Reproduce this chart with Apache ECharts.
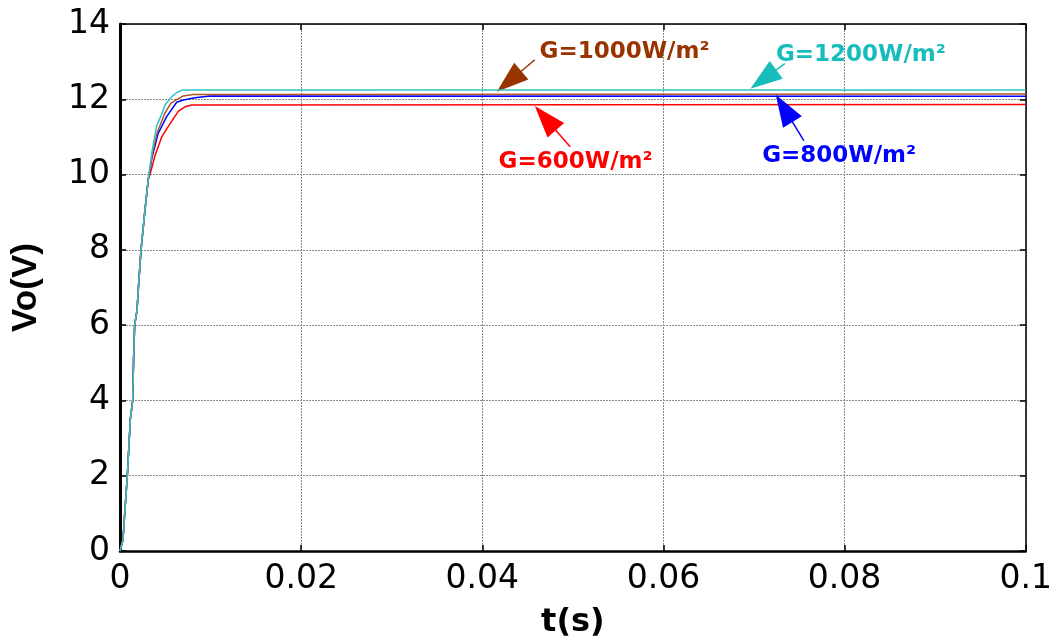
<!DOCTYPE html>
<html>
<head>
<meta charset="utf-8">
<script src="https://cdn.jsdelivr.net/npm/echarts@6/dist/echarts.min.js"></script>
<style>
  html, body { margin: 0; padding: 0; background: #fff; }
  #chart { width: 1055px; height: 644px; }
</style>
</head>
<body>
<div id="chart"></div>
<script>
// shared start-up rise (all four curves overlap here)
var riseT = [0, 0.00022, 0.00033, 0.00052, 0.00081, 0.00114, 0.0014, 0.00151, 0.00162, 0.00188, 0.00202, 0.00232, 0.00276, 0.00312];
var riseV = [0, 0, 0.3, 1.0, 2.0, 3.5, 4.0, 5.2, 6.0, 6.4, 6.95, 8.0, 9.07, 9.87];

// settling part of each curve, up to t = 0.1
var t1200 = [0.00353, 0.00405, 0.0046, 0.00497, 0.00571, 0.00629, 0.00695, 0.1];
var v1200 = [10.6, 11.3, 11.6, 11.85, 12.07, 12.18, 12.25, 12.25];
var t1000 = [0.00353, 0.00408, 0.00497, 0.00563, 0.00626, 0.00699, 0.00809, 0.1];
var v1000 = [10.5, 11.1, 11.64, 11.9, 11.99, 12.09, 12.13, 12.14];
var t800 = [0.00353, 0.00423, 0.00515, 0.00626, 0.00699, 0.00828, 0.00993, 0.1];
var v800 = [10.45, 11.1, 11.54, 11.92, 11.98, 12.04, 12.09, 12.08];
var t600 = [0.00331, 0.00386, 0.0046, 0.00533, 0.00643, 0.00717, 0.00791, 0.1];
var v600 = [10.0, 10.5, 11.0, 11.28, 11.68, 11.8, 11.85, 11.86];

var names = ['G=600W/m²', 'G=800W/m²', 'G=1000W/m²', 'G=1200W/m²'];
var colors = ['#ff0000', '#0000ff', '#b0552a', '#2ec4c4'];
var textColors = ['#ff0000', '#0000ff', '#993300', '#17bdbd'];

// annotation arrows [tail t, tail v, tip t, tip v] and label centres [t, v]
var arrows = [
  [0.0497, 10.74, 0.0458, 11.82],
  [0.0755, 10.9, 0.0724, 12.12],
  [0.0458, 13.05, 0.0416, 12.2],
  [0.0734, 12.95, 0.0696, 12.28]
];
var labelPos = [[0.0503, 10.32], [0.0794, 10.48], [0.0557, 13.26], [0.0818, 13.18]];

var xTicks = [0, 0.02, 0.04, 0.06, 0.08, 0.1];
var yTicks = [0, 2, 4, 6, 8, 10, 12, 14];

function build(tt, vv) {
  var out = [];
  for (var i = 0; i < riseT.length; i++) out.push([riseT[i], riseV[i]]);
  for (var j = 0; j < tt.length; j++) out.push([tt[j], vv[j]]);
  return out;
}
var curves = [build(t600, v600), build(t800, v800), build(t1000, v1000), build(t1200, v1200)];

function arrowData(k, head, rot) {
  return [[
    { coord: [arrows[k][0], arrows[k][1]], symbol: 'none' },
    { coord: head, symbol: 'triangle', symbolSize: [22, 32], symbolRotate: rot }
  ]];
}

var series = curves.map(function (d, k) {
  return {
    name: names[k],
    type: 'line',
    data: d,
    showSymbol: false,
    smooth: false,
    lineStyle: { width: 1.5, color: colors[k] },
    itemStyle: { color: colors[k] },
    z: 3 + k,
    markLine: {
      silent: true,
      animation: false,
      lineStyle: { type: 'solid', width: 1.5, color: textColors[k] },
      itemStyle: { color: textColors[k] },
      label: { show: false },
      data: arrowData(k, [arrows[k][2], arrows[k][3]], 0)
    },
    markPoint: {
      silent: true,
      animation: false,
      symbol: 'rect',
      symbolSize: 1,
      itemStyle: { color: 'transparent' },
      label: {
        show: true,
        position: 'inside',
        formatter: names[k],
        color: textColors[k],
        fontFamily: 'DejaVu Sans',
        fontWeight: 'bold',
        fontSize: 23
      },
      data: [{ coord: labelPos[k] }]
    }
  };
});

var tickFont = { fontFamily: 'DejaVu Sans', fontSize: 33, color: '#000' };
var gridLine = { show: true, lineStyle: { color: '#8a8a8a', type: [2, 1], width: 1 } };

var option = {
  animation: false,
  backgroundColor: '#fff',
  grid: { left: 120, right: 29, top: 24, bottom: 92 },
  xAxis: [{
    type: 'value', min: 0, max: 0.1, interval: 0.02,
    name: 't(s)', nameLocation: 'middle', nameGap: 56,
    nameTextStyle: { fontFamily: 'DejaVu Sans', fontWeight: 'bold', fontSize: 32, color: '#000' },
    axisLine: { onZero: false, lineStyle: { color: '#000', width: 2.5 } },
    axisTick: { inside: true, length: 6, lineStyle: { color: '#000', width: 1.5 } },
    axisLabel: Object.assign({ margin: 12, formatter: function (v) { return xTicks.indexOf(v) >= 0 ? String(v) : ''; } }, tickFont),
    splitLine: gridLine
  }, {
    type: 'value', min: 0, max: 0.1, interval: 0.02, position: 'top',
    axisLine: { onZero: false, lineStyle: { color: '#000', width: 1.5 } },
    axisTick: { inside: true, length: 6, lineStyle: { color: '#000', width: 1.5 } },
    axisLabel: { show: false }, splitLine: { show: false }
  }],
  yAxis: [{
    type: 'value', min: 0, max: 14, interval: 2,
    name: 'Vo(V)', nameLocation: 'middle', nameGap: 76, nameRotate: 90,
    nameTextStyle: { fontFamily: 'Liberation Sans', fontWeight: 'bold', fontSize: 35, color: '#000' },
    axisLine: { onZero: false, lineStyle: { color: '#000', width: 3 } },
    axisTick: { inside: true, length: 6, lineStyle: { color: '#000', width: 1.5 } },
    axisLabel: Object.assign({ margin: 10, formatter: function (v) { return yTicks.indexOf(v) >= 0 ? String(v) : ''; } }, tickFont),
    splitLine: gridLine
  }, {
    type: 'value', min: 0, max: 14, interval: 2, position: 'right',
    axisLine: { show: true, onZero: false, lineStyle: { color: '#000', width: 1.5 } },
    axisTick: { show: true, inside: true, length: 6, lineStyle: { color: '#000', width: 1.5 } },
    axisLabel: { show: false }, splitLine: { show: false }
  }],
  series: series
};

var chart = echarts.init(document.getElementById('chart'), null, { renderer: 'canvas' });
chart.setOption(option);

// point each arrow head along its shaft, with the tip sitting on the target
var update = arrows.map(function (a, k) {
  var p0 = chart.convertToPixel({ gridIndex: 0 }, [a[0], a[1]]);
  var p1 = chart.convertToPixel({ gridIndex: 0 }, [a[2], a[3]]);
  var dx = p1[0] - p0[0], dy = p1[1] - p0[1];
  var len = Math.sqrt(dx * dx + dy * dy);
  var c = [p1[0] - dx / len * 16, p1[1] - dy / len * 16];
  var head = chart.convertFromPixel({ gridIndex: 0 }, c);
  var rot = Math.atan2(-dy, dx) * 180 / Math.PI - 90;
  return { markLine: { data: arrowData(k, head, rot) } };
});
chart.setOption({ series: update });
</script>
</body>
</html>
